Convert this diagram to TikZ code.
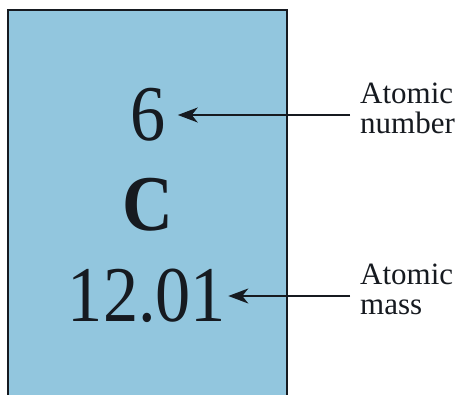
\documentclass[tikz,border=0pt]{standalone}
\usepackage{fontspec}
\setmainfont{Liberation Serif}
\usetikzlibrary{arrows.meta}
\definecolor{boxblue}{RGB}{146,198,222}
\definecolor{ink}{RGB}{22,26,32}
\newcommand{\narrow}[1]{\scalebox{0.89}[1]{#1}}
\tikzset{
  big/.style={inner sep=0pt, text=ink, font=\fontsize{79}{80}\selectfont},
  lbl/.style={inner sep=0pt, text=ink, align=left, font=\fontsize{31}{30}\selectfont},
  arr/.style={draw=ink, line width=1.7pt, -{Stealth[length=20pt,width=15pt,inset=6pt]}}
}
\begin{document}
\begin{tikzpicture}[x=1pt,y=-1pt]
\useasboundingbox (0,0) rectangle (462,395);
\clip (0,0) rectangle (462,395);
\fill[white] (0,0) rectangle (462,395);
\draw[draw=ink, line width=1.8pt, fill=boxblue] (8,10) rectangle (287,410);
\node[big] (six) at (148,115) {\narrow{6}};
\node[big] (carbon) at (148,205) {\narrow{\textbf{C}}};
\node[big] (mass) at (147,296) {\narrow{12.01}};
\node[lbl, anchor=north west] (lab1) at (360,82.5) {Atomic\\number};
\node[lbl, anchor=north west] (lab2) at (360,264) {Atomic\\mass};
\draw[arr] ([xshift=-10pt]lab1.west |- six.east) -- ([xshift=12pt]six.east);
\draw[arr] ([xshift=-10pt]lab2.west |- mass.east) -- ([xshift=2pt]mass.east);
\end{tikzpicture}
\end{document}
